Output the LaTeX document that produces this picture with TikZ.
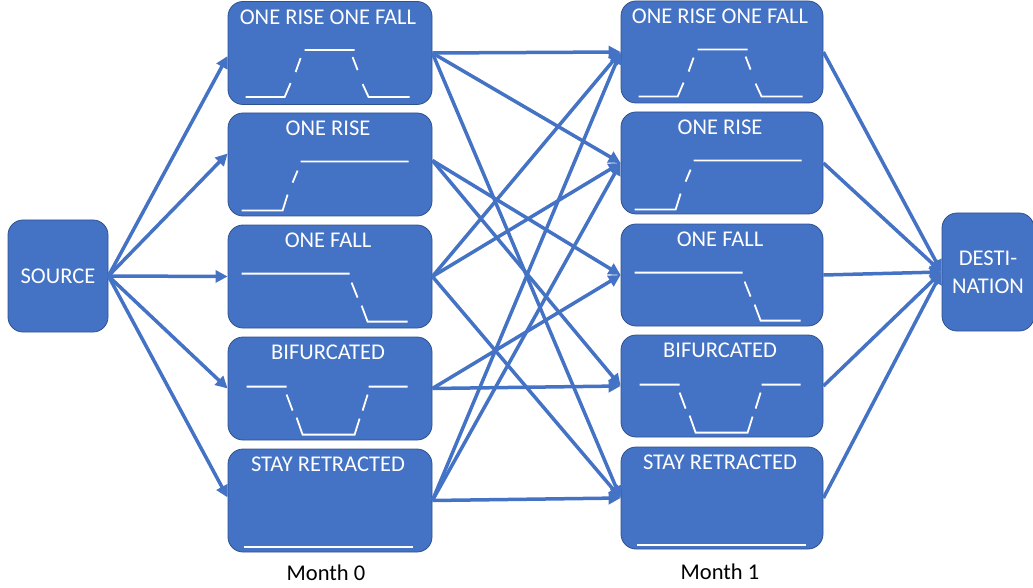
\documentclass[tikz,border=0pt]{standalone}
\usepackage{fontspec}
\setmainfont{Carlito}
\usetikzlibrary{arrows.meta}

\definecolor{boxblue}{RGB}{68,114,196}
\definecolor{boxedge}{RGB}{47,82,143}

\tikzset{
  basebox/.style={draw=boxedge, line width=0.8pt, fill=boxblue,
    rounded corners=15pt, inner sep=0pt, text=white, align=center,
    font=\fontsize{22.5}{28}\selectfont},
  leftbox/.style={basebox, minimum width=204pt, minimum height=103pt},
  rightbox/.style={basebox, minimum width=202pt, minimum height=102pt},
  endbox/.style={basebox},
  boxtitle/.style={text=white, inner sep=0pt, font=\fontsize{22.5}{27}\selectfont},
  monthlabel/.style={text=black, inner sep=0pt, font=\fontsize{22.5}{27}\selectfont},
  wave/.style={draw=white, line width=1.8pt},
  link/.style={draw=boxblue, line width=3.5pt, -{Triangle[length=12pt,width=12pt]}},
}

% profile sketches, drawn relative to a box's top-left corner
\newcommand\profRiseFall{%
  \draw[wave] (18,96)--(57,96)--(63,82) (68,71)--(73,57) (77,49)--(127,49)
    (125,56)--(130,69) (135,83)--(141,96)--(182,96);}
\newcommand\profRise{%
  \draw[wave] (14,98)--(55,98)--(60,82) (65,70)--(70,58) (73,49)--(181,49);}
\newcommand\profFall{%
  \draw[wave] (14,49)--(122,49) (124,58)--(130,73) (134,81)--(140,97)--(180,97);}
\newcommand\profBifurcated{%
  \draw[wave] (19,50)--(59,50) (59,58)--(65,74) (69,81)--(75,98)--(127,98)--(132,82)
    (135,74)--(140,58) (141,50)--(180,50);}
\newcommand\profStay{%
  \draw[wave] (16,98)--(185,98);}

\begin{document}
\begin{tikzpicture}[x=1pt,y=-1pt]
\useasboundingbox (0,0) rectangle (1033,588);

% source and destination
\node[endbox, minimum width=100pt, minimum height=112pt] (src) at (58,276) {SOURCE};
\node[endbox, minimum width=92pt, minimum height=118pt] (dst) at (988,272) {DESTI-\\NATION};

% month 0 column
\node[leftbox] (a1) at (330,53) {};
\node[leftbox] (a2) at (330,164.5) {};
\node[leftbox] (a3) at (330,276.5) {};
\node[leftbox] (a4) at (330,388.5) {};
\node[leftbox] (a5) at (330,500.5) {};

% month 1 column
\node[rightbox] (b1) at (722,52) {};
\node[rightbox] (b2) at (722,163) {};
\node[rightbox] (b3) at (722,275) {};
\node[rightbox] (b4) at (722,386) {};
\node[rightbox] (b5) at (722,498) {};

% titles
\foreach \c in {a,b}{
  \node[boxtitle] (\c1t) at ([xshift=-2pt,yshift=-16pt]\c1.north) {ONE RISE ONE FALL};
  \node[boxtitle] (\c2t) at ([xshift=-2pt,yshift=-16pt]\c2.north) {ONE RISE};
  \node[boxtitle] (\c3t) at ([xshift=-2pt,yshift=-16pt]\c3.north) {ONE FALL};
  \node[boxtitle] (\c4t) at ([xshift=-2pt,yshift=-16pt]\c4.north) {BIFURCATED};
  \node[boxtitle] (\c5t) at ([xshift=-2pt,yshift=-16pt]\c5.north) {STAY RETRACTED};
}

% profiles
\foreach \c in {a,b}{
  \begin{scope}[shift={(\c1.north west)}]\profRiseFall\end{scope}
  \begin{scope}[shift={(\c2.north west)}]\profRise\end{scope}
  \begin{scope}[shift={(\c3.north west)}]\profFall\end{scope}
  \begin{scope}[shift={(\c4.north west)}]\profBifurcated\end{scope}
  \begin{scope}[shift={(\c5.north west)}]\profStay\end{scope}
}

% month labels
\node[monthlabel, anchor=base] (m0) at (326,580) {Month 0};
\node[monthlabel, anchor=base] (m1) at (720,579) {Month 1};

% source to month 0
\draw[link] (src.east) -- ([yshift=-3pt]a1.west);
\draw[link] (src.east) -- ([yshift=11pt]a2.west);
\draw[link] (src.east) -- (a3.west);
\draw[link] (src.east) -- (a4.west);
\draw[link] (src.east) -- ([yshift=3pt]a5.west);

% month 0 to month 1
\draw[link] (a1.east) -- (b1.west);
\draw[link] (a1.east) -- (b2.west);
\draw[link] (a1.east) -- (b5.west);
\draw[link] ([yshift=4pt]a2.east) -- (b3.west);
\draw[link] ([yshift=4pt]a2.east) -- (b4.west);
\draw[link] (a3.east) -- (b1.west);
\draw[link] (a3.east) -- (b2.west);
\draw[link] (a3.east) -- (b5.west);
\draw[link] (a4.east) -- (b3.west);
\draw[link] (a4.east) -- (b4.west);
\draw[link] (a5.east) -- (b1.west);
\draw[link] (a5.east) -- (b2.west);
\draw[link] (a5.east) -- (b5.west);

% month 1 to destination
\foreach \i in {1,...,5}{
  \draw[link] (b\i.east) -- (dst.west);
}
\end{tikzpicture}
\end{document}
